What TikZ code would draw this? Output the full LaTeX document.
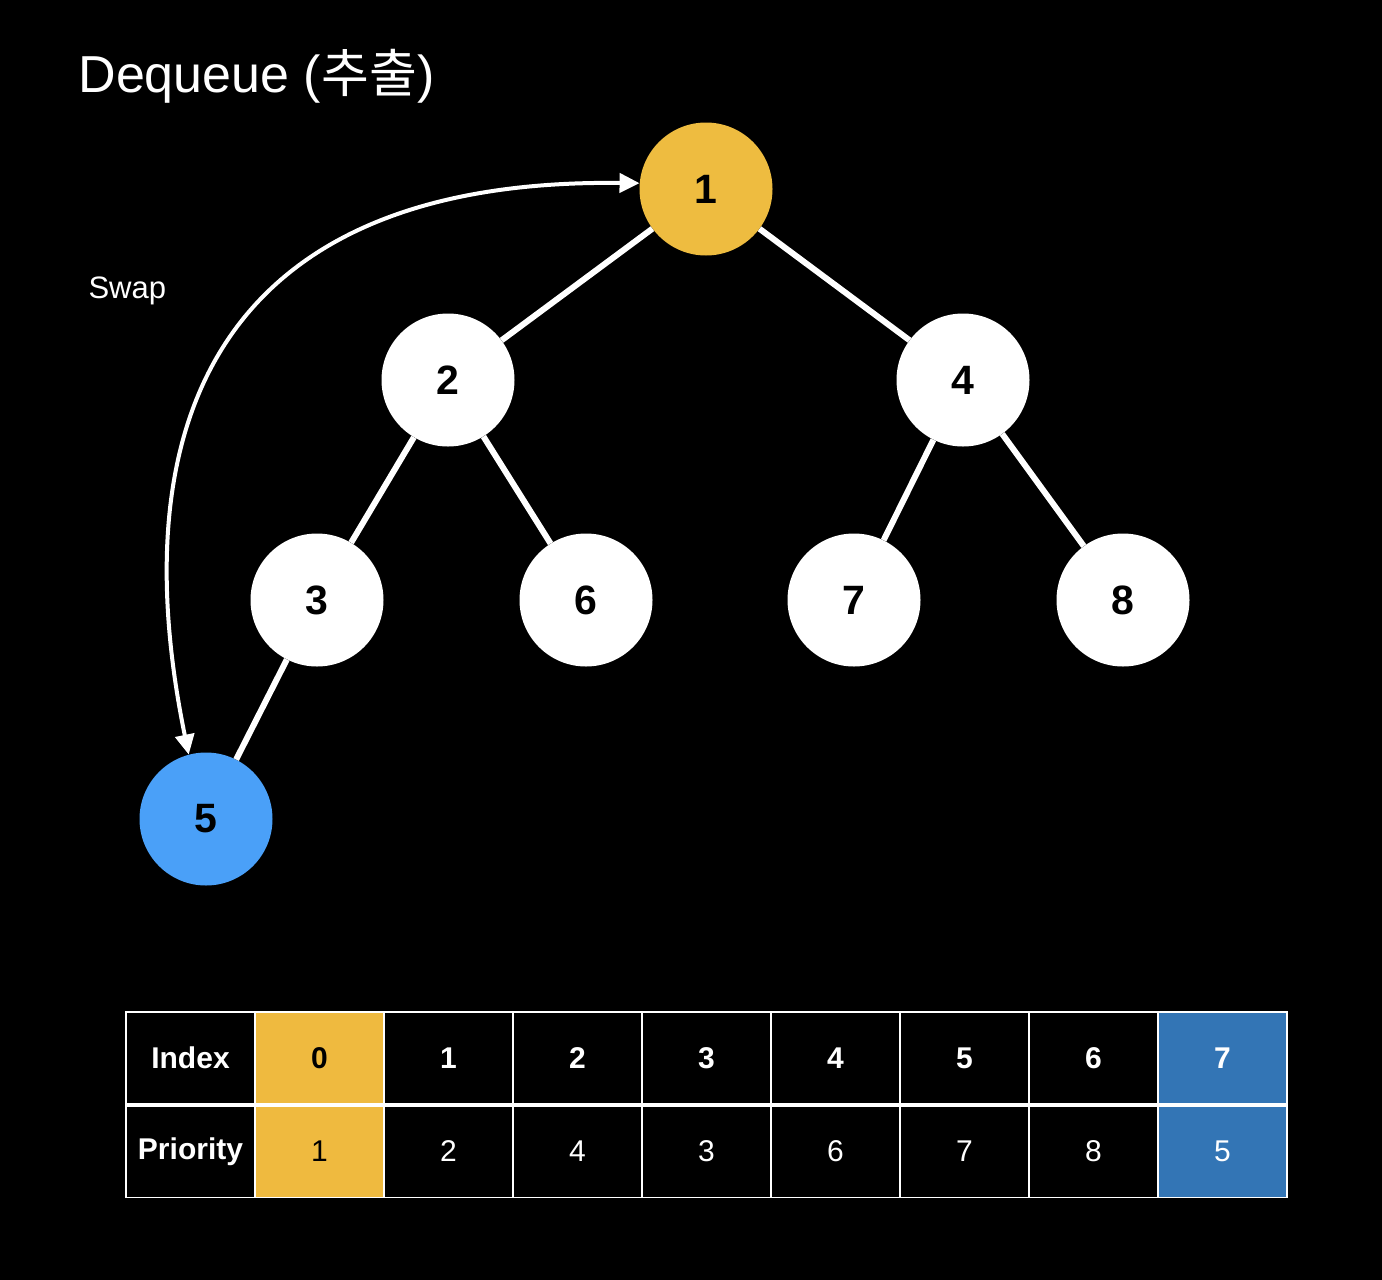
\documentclass[tikz,border=0pt]{standalone}
\usepackage{fontspec}
\setmainfont{Liberation Sans}
\newfontfamily\krfont{Noto Sans CJK KR}
\usetikzlibrary{arrows.meta}
\usetikzlibrary{positioning}
\definecolor{rootyellow}{HTML}{EEBC40}
\definecolor{lastblue}{HTML}{4AA0F8}
\definecolor{cellyellow}{HTML}{EFBA3F}
\definecolor{cellblue}{HTML}{3375B5}

\begin{document}
\begin{tikzpicture}[x=1pt, y=-1pt, >={Triangle[length=20pt,width=19pt]},
    heapnode/.style={circle, fill=white, minimum size=133pt, inner sep=0pt, text=black,
        font=\fontsize{41}{41}\selectfont\bfseries},
    heapedge/.style={white, line width=6pt},
    cell/.style={draw=white, line width=1.5pt, minimum width=129pt, minimum height=92pt,
        inner sep=0pt, font=\fontsize{30}{30}\selectfont}]

    \fill[black] (0,0) rectangle (1382,1280);
    \useasboundingbox (0,0) rectangle (1382,1280);

    \node[anchor=base west, text=white, font=\fontsize{52}{52}\selectfont] (title) at (75,92) {Dequeue ({\krfont 추출})};
    \node[anchor=base west, text=white, font=\fontsize{31}{31}\selectfont] (swap) at (85,298) {Swap};

    % heap
    \node[heapnode, fill=rootyellow] (n1) at (706,189) {1};
    \node[heapnode] (n2) at (448,380) {2};
    \node[heapnode] (n4) at (963,380) {4};
    \node[heapnode] (n3) at (317,600) {3};
    \node[heapnode] (n6) at (586,600) {6};
    \node[heapnode] (n7) at (854,600) {7};
    \node[heapnode] (n8) at (1123,600) {8};
    \node[heapnode, fill=lastblue] (n5) at (206,819) {5};

    \draw[heapedge] (n1) -- (n2);
    \draw[heapedge] (n1) -- (n4);
    \draw[heapedge] (n2) -- (n3);
    \draw[heapedge] (n2) -- (n6);
    \draw[heapedge] (n4) -- (n7);
    \draw[heapedge] (n4) -- (n8);
    \draw[heapedge] (n3) -- (n5);

    \draw[<->, white, line width=4pt] (n5.105) .. controls (120,420) and (220,178) .. (n1.175);

    % array
    \node[cell, text=white, font=\fontsize{30}{30}\selectfont\bfseries] (idxhead) at (190.5,1058) {Index};
    \node[cell, text=white, font=\fontsize{30}{30}\selectfont\bfseries] (prihead) at (190.5,1151.5) {Priority};
    \foreach \idx/\pri/\bg/\fg [count=\c] in {0/1/cellyellow/black, 1/2/black/white, 2/4/black/white,
        3/3/black/white, 4/6/black/white, 5/7/black/white, 6/8/black/white, 7/5/cellblue/white} {
        \node[cell, fill=\bg, text=\fg, font=\fontsize{30}{30}\selectfont\bfseries] (idx\idx) at (190.5+129*\c,1058) {\idx};
        \node[cell, fill=\bg, text=\fg] (pri\idx) at (190.5+129*\c,1151.5) {\pri};
    }
    \draw[white, line width=4pt] (idxhead.south west) -- (idx7.south east);

\end{tikzpicture}
\end{document}
